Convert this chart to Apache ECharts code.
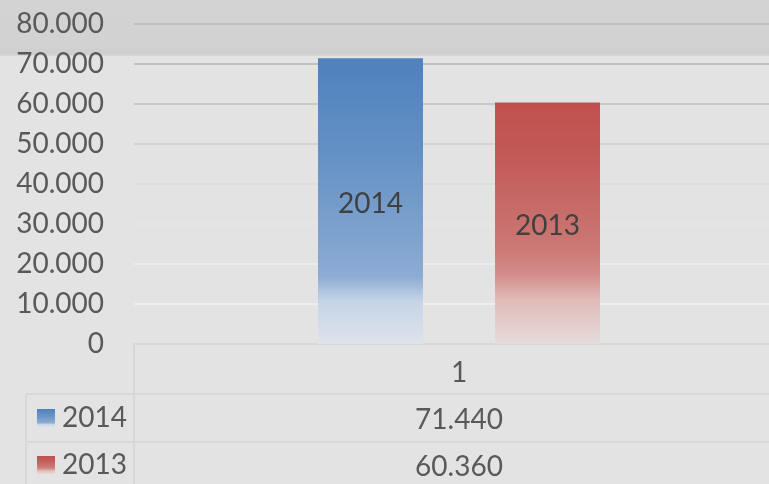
<!DOCTYPE html>
<html>
<head>
<meta charset="utf-8">
<script src="https://cdn.jsdelivr.net/npm/echarts@6/dist/echarts.min.js"></script>
<style>html,body{margin:0;padding:0;background:#e3e3e3;}#c{width:769px;height:484px;}</style>
</head>
<body>
<div id="c"></div>
<script>
const categories = ['1'];
const seriesNames = ['2014', '2013'];
const values2014 = [71440];
const values2013 = [60360];
const yTicks = { min: 0, max: 80000, interval: 10000 };

function fmt(v) {
  return Math.round(v).toString().replace(/\B(?=(\d{3})+(?!\d))/g, '.');
}

const FONT = 'Lato';
const blueGrad = new echarts.graphic.LinearGradient(0, 0, 0, 1, [
  { offset: 0, color: '#4f81bd' },
  { offset: 0.35, color: '#6592c5' },
  { offset: 0.67, color: '#83a5d0' },
  { offset: 0.765, color: '#8eacd4' },
  { offset: 0.85, color: '#c5d4e6' },
  { offset: 1, color: '#dfe3ea' }
]);
const redGrad = new echarts.graphic.LinearGradient(0, 0, 0, 1, [
  { offset: 0, color: '#c0504d' },
  { offset: 0.24, color: '#c25b59' },
  { offset: 0.61, color: '#cb7976' },
  { offset: 0.71, color: '#d38c8a' },
  { offset: 0.82, color: '#e0bcba' },
  { offset: 1, color: '#e6dcdc' }
]);

const chart = echarts.init(document.getElementById('c'), null, { renderer: 'canvas' });
const lineColor = '#d8d8d8';
const legendBase = {
  orient: 'vertical',
  left: 37,
  itemWidth: 18,
  itemHeight: 18,
  icon: 'rect',
  selectedMode: false,
  padding: 0,
  textStyle: { fontSize: 28, color: '#595959', fontFamily: FONT, padding: [5, 0, 0, 2] }
};
const labelBase = { fontSize: 28, color: '#595959', fontFamily: FONT };
const option = {
  backgroundColor: '#e3e3e3',
  animation: false,
  textStyle: { fontFamily: FONT },
  grid: { left: 134, top: 24, right: -15, bottom: 140, containLabel: false, outerBoundsMode: 'none' },
  legend: [
    Object.assign({}, legendBase, { top: 404, data: [seriesNames[0]] }),
    Object.assign({}, legendBase, { top: 451, data: [seriesNames[1]] })
  ],
  xAxis: [
    {
      type: 'category', data: categories, position: 'bottom',
      axisLine: { show: true, lineStyle: { color: lineColor, width: 2 } },
      axisTick: { show: false },
      axisLabel: Object.assign({ margin: 13, padding: [2, 0, 0, 0] }, labelBase)
    },
    {
      type: 'category', data: values2014.map(fmt), position: 'bottom', offset: 47,
      axisLine: { show: false }, axisTick: { show: false },
      axisLabel: Object.assign({ margin: 13, padding: [2, 0, 0, 0] }, labelBase)
    },
    {
      type: 'category', data: values2013.map(fmt), position: 'bottom', offset: 95,
      axisLine: { show: false }, axisTick: { show: false },
      axisLabel: Object.assign({ margin: 13, padding: [1, 0, 0, 0] }, labelBase)
    }
  ],
  yAxis: {
    type: 'value',
    min: yTicks.min, max: yTicks.max, interval: yTicks.interval,
    axisLine: { show: false }, axisTick: { show: false },
    axisLabel: Object.assign({ margin: 30, padding: [4, 0, 0, 0], formatter: v => fmt(v) }, labelBase),
    splitLine: {
      show: true,
      lineStyle: {
        width: 2,
        color: ['#d8d8d8', '#eeeeee', '#ececec', '#e6e6e6', '#dddddd', '#d3d3d3', '#c8c8c8', '#c0c0c0', '#c0c0c0']
      }
    }
  },
  graphic: [
    {
      type: 'rect', z: -10, silent: true,
      shape: { x: 0, y: 0, width: 769, height: 56 },
      style: {
        fill: new echarts.graphic.LinearGradient(0, 0, 0, 1, [
          { offset: 0, color: '#d3d3d3' },
          { offset: 0.8, color: '#d2d2d2' },
          { offset: 0.95, color: '#cecece' },
          { offset: 1, color: '#d8d8d8' }
        ])
      }
    },
    { type: 'line', silent: true, shape: { x1: 26, y1: 394, x2: 769, y2: 394 }, style: { stroke: lineColor, lineWidth: 2 } },
    { type: 'line', silent: true, shape: { x1: 26, y1: 442, x2: 769, y2: 442 }, style: { stroke: lineColor, lineWidth: 2 } },
    { type: 'line', silent: true, shape: { x1: 134, y1: 345, x2: 134, y2: 484 }, style: { stroke: lineColor, lineWidth: 2 } },
    { type: 'line', silent: true, shape: { x1: 26, y1: 394, x2: 26, y2: 484 }, style: { stroke: lineColor, lineWidth: 2 } }
  ],
  series: [
    {
      name: seriesNames[0], type: 'bar', data: values2014,
      barWidth: 105, barGap: '68.6%',
      itemStyle: { color: blueGrad },
      label: { show: true, position: 'inside', formatter: '{a}', fontSize: 28, color: '#404040', fontFamily: FONT, offset: [0, 3] }
    },
    {
      name: seriesNames[1], type: 'bar', data: values2013,
      barWidth: 105, barGap: '68.6%',
      itemStyle: { color: redGrad },
      label: { show: true, position: 'inside', formatter: '{a}', fontSize: 28, color: '#404040', fontFamily: FONT, offset: [0, 3] }
    }
  ]
};
chart.setOption(option);
</script>
</body>
</html>
